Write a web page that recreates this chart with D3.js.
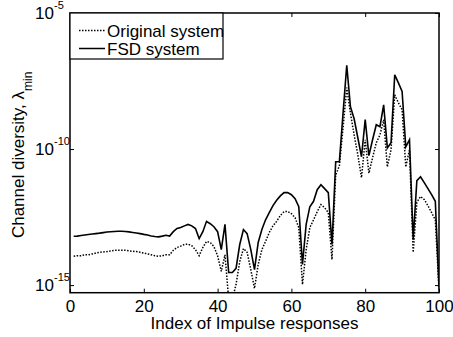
<!DOCTYPE html>
<html>
<head>
<meta charset="utf-8">
<script src="https://cdn.jsdelivr.net/npm/d3@7"></script>
<style>
body { margin: 0; background: #fff; }
svg text { font-family: "Liberation Sans", Arial, Helvetica, sans-serif; fill: #000; }
</style>
</head>
<body>
<div class="chart-container"></div>
<script>
// index of the impulse responses (x)
const responseIndex = d3.range(1, 101);

// minimum eigenvalue, original system (dotted)
const originalSystem = [
    1.15e-14, 1.2e-14, 1.2e-14, 1.3e-14, 1.3e-14, 1.4e-14, 1.5e-14, 1.6e-14, 1.65e-14, 1.7e-14,
    1.8e-14, 1.9e-14, 1.9e-14, 1.9e-14, 1.9e-14, 1.8e-14, 1.75e-14, 1.7e-14, 1.6e-14, 1.5e-14,
    1.4e-14, 1.3e-14, 1.2e-14, 1.15e-14, 1.2e-14, 1.3e-14, 1.3e-14, 1.9e-14, 2.4e-14, 2.7e-14,
    3.1e-14, 3.2e-14, 2.8e-14, 2.0e-14, 1.2e-14, 2.4e-14, 4.0e-14, 3.7e-14, 2.6e-14, 1.2e-14,
    3.2e-15, 1.3e-14, 3e-16, 3e-16, 1.05e-15, 7.3e-15, 2.2e-14, 1.6e-14, 3.7e-15, 7.5e-16,
    5.7e-15, 2.0e-14, 4.0e-14, 8.5e-14, 1.5e-13, 2.2e-13, 3.6e-13, 5.0e-13, 5.1e-13, 4.2e-13,
    3.0e-13, 1.3e-13, 1.05e-15, 2.0e-14, 1.3e-13, 2.5e-13, 5.0e-13, 9.1e-13, 7.0e-13, 4.6e-13,
    8.7e-15, 1.1e-11, 2.4e-11, 6.0e-10, 1.8e-8, 2.1e-9, 3.3e-10, 6.2e-11, 8.9e-12, 2.2e-10,
    1.3e-11, 4.8e-11, 1.7e-10, 3.3e-10, 1.2e-9, 2.2e-11, 9.4e-11, 9.8e-9, 5.0e-9, 2.8e-9,
    2.2e-11, 9.4e-11, 1.6e-14, 1.1e-12, 1.8e-12, 1.4e-12, 8.3e-13, 4.6e-13, 2.5e-13, 6.9e-16
];

// minimum eigenvalue, FSD system (solid)
const fsdSystem = [
    6.2e-14, 6.3e-14, 6.6e-14, 6.9e-14, 7.2e-14, 7.5e-14, 7.8e-14, 8.1e-14, 8.5e-14, 8.9e-14,
    9.1e-14, 9.3e-14, 9.5e-14, 9.5e-14, 9.3e-14, 9.0e-14, 8.6e-14, 8.2e-14, 7.8e-14, 7.3e-14,
    6.9e-14, 6.4e-14, 6.1e-14, 5.9e-14, 6.3e-14, 6.8e-14, 6.3e-14, 9.2e-14, 1.2e-13, 1.3e-13,
    1.5e-13, 1.7e-13, 1.5e-13, 1.2e-13, 5.1e-14, 9.2e-14, 2.2e-13, 1.8e-13, 1.4e-13, 9.2e-14,
    2.0e-14, 1.7e-13, 2.9e-15, 2.9e-15, 4.1e-15, 3.1e-14, 1.1e-13, 7.8e-14, 2.0e-14, 3.7e-15,
    3.7e-14, 1.1e-13, 2.5e-13, 4.6e-13, 8.3e-13, 1.3e-12, 1.9e-12, 2.5e-12, 2.5e-12, 2.1e-12,
    1.5e-12, 7.6e-13, 5.7e-15, 1.7e-13, 7.6e-13, 1.2e-12, 3.2e-12, 4.9e-12, 3.5e-12, 2.5e-12,
    3.1e-14, 3.4e-11, 3.4e-11, 2.1e-9, 1.2e-7, 3.6e-9, 1.3e-9, 2.6e-10, 5.2e-11, 1.2e-9,
    5.7e-11, 2.2e-10, 7.8e-10, 6.6e-10, 4.2e-9, 1.1e-10, 1.7e-10, 5.3e-8, 2.7e-8, 1.3e-8,
    1.2e-10, 2.2e-10, 4.7e-14, 6.9e-12, 9.6e-12, 5.8e-12, 3.5e-12, 2.1e-12, 1.2e-12, 8.2e-16
];

const xTicks = [0, 20, 40, 60, 80, 100];
const yTicks = [1e-15, 1e-10, 1e-5];
const yTickExponents = ['-15', '-10', '-5'];
const seriesNames = ['Original system', 'FSD system'];

const width = 453;
const height = 337;
const plotLeft = 70, plotRight = 439, plotTop = 13, plotBottom = 292.7;

const svg = d3.select('.chart-container').append('svg')
    .attr('width', width)
    .attr('height', height);

const x = d3.scaleLinear().domain([0, 100]).range([plotLeft, plotRight]);
const y = d3.scaleLog().domain([Math.pow(10, -15.28), 1e-5]).range([plotBottom, plotTop]);

svg.append('clipPath').attr('id', 'plot-clip')
    .append('rect')
    .attr('x', plotLeft).attr('y', plotTop)
    .attr('width', plotRight - plotLeft).attr('height', plotBottom - plotTop);

// ticks (inward, on all four sides)
const tickLen = 4;
const axisStyle = g => {
    g.select('.domain').remove();
    g.selectAll('.tick line').attr('stroke', '#000').attr('stroke-width', 1);
};

svg.append('g')
    .attr('transform', `translate(0,${plotBottom})`)
    .call(d3.axisBottom(x).tickValues(xTicks).tickSizeInner(-tickLen).tickSizeOuter(0).tickPadding(7))
    .call(axisStyle)
    .call(g => g.selectAll('.tick text').attr('font-size', 17).attr('fill', '#000'));

svg.append('g')
    .attr('transform', `translate(0,${plotTop})`)
    .call(d3.axisTop(x).tickValues(xTicks).tickSizeInner(-tickLen).tickSizeOuter(0).tickFormat(''))
    .call(axisStyle);

svg.append('g')
    .attr('transform', `translate(${plotLeft},0)`)
    .call(d3.axisLeft(y).tickValues(yTicks).tickSizeInner(-tickLen).tickSizeOuter(0).tickFormat(''))
    .call(axisStyle);

svg.append('g')
    .attr('transform', `translate(${plotRight},0)`)
    .call(d3.axisRight(y).tickValues(yTicks).tickSizeInner(-tickLen).tickSizeOuter(0).tickFormat(''))
    .call(axisStyle);

// y tick labels: 10 with superscript exponent
const yLabel = svg.append('g').selectAll('text')
    .data(yTicks)
    .join('text')
    .attr('x', 54)
    .attr('y', d => y(d) + 6)
    .attr('font-size', 17);
yLabel.append('tspan').text('10');
yLabel.append('tspan')
    .attr('font-size', 11)
    .attr('dy', -10)
    .text((d, i) => yTickExponents[i]);
// shift so that "10" ends at x=54
yLabel.each(function () {
    const first = this.firstChild.getComputedTextLength();
    d3.select(this).attr('x', 54 - first);
});

// lines
const line = d3.line()
    .x((d, i) => x(responseIndex[i]))
    .y(d => y(d));

const plot = svg.append('g').attr('clip-path', 'url(#plot-clip)');

plot.append('path')
    .datum(originalSystem)
    .attr('fill', 'none')
    .attr('stroke', '#000')
    .attr('stroke-width', 1.5)
    .attr('stroke-dasharray', '1.5,1.5')
    .attr('d', line);

plot.append('path')
    .datum(fsdSystem)
    .attr('fill', 'none')
    .attr('stroke', '#000')
    .attr('stroke-width', 1.6)
    .attr('stroke-linejoin', 'miter')
    .attr('d', line);

// box
svg.append('rect')
    .attr('x', plotLeft).attr('y', plotTop)
    .attr('width', plotRight - plotLeft).attr('height', plotBottom - plotTop)
    .attr('fill', 'none')
    .attr('stroke', '#000')
    .attr('stroke-width', 1.5);

// axis labels
svg.append('text')
    .attr('x', (plotLeft + plotRight) / 2)
    .attr('y', 329)
    .attr('text-anchor', 'middle')
    .attr('font-size', 17)
    .text('Index of Impulse responses');

const yTitle = svg.append('text')
    .attr('transform', `translate(23.5,${(plotTop + plotBottom) / 2 + 2}) rotate(-90)`)
    .attr('text-anchor', 'middle')
    .attr('font-size', 17);
yTitle.append('tspan').text('Channel diversity, \u03bb');
yTitle.append('tspan').attr('font-size', 12).attr('dy', 8).text('min');

// legend
const legend = svg.append('g');
legend.append('rect')
    .attr('x', plotLeft).attr('y', plotTop)
    .attr('width', 153).attr('height', 46)
    .attr('fill', '#fff')
    .attr('stroke', '#000')
    .attr('stroke-width', 1.2);

const legendItems = legend.selectAll('g')
    .data(seriesNames)
    .join('g')
    .attr('transform', (d, i) => `translate(0,${30.5 + i * 18})`);

legendItems.append('line')
    .attr('x1', 79).attr('x2', 105)
    .attr('stroke', '#000')
    .attr('stroke-width', 1.5)
    .attr('stroke-dasharray', (d, i) => i === 0 ? '1.5,1.5' : null);

legendItems.append('text')
    .attr('x', 107)
    .attr('y', 6)
    .attr('font-size', 17)
    .text(d => d);
</script>
</body>
</html>
